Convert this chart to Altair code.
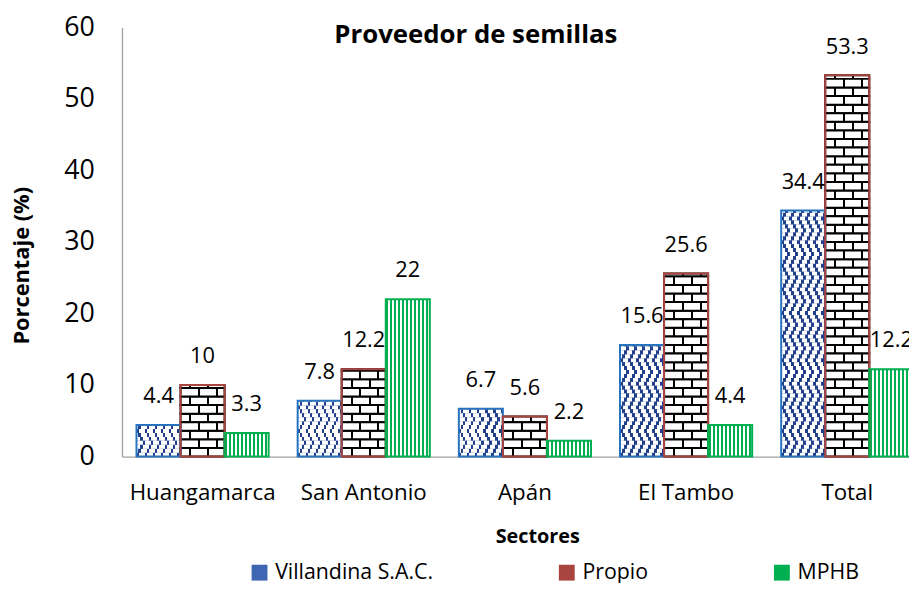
import math
import altair as alt
import pandas as pd

sectores = ["Huangamarca", "San Antonio", "Apán", "El Tambo", "Total"]
series = ["Villandina S.A.C.", "Propio", "MPHB"]
villandina = [4.4, 7.8, 6.7, 15.6, 34.4]
propio = [10, 12.2, 5.6, 25.6, 53.3]
mphb = [3.3, 22, 2.2, 4.4, 12.2]
y_ticks = [0, 10, 20, 30, 40, 50, 60]

FONT = "Open Sans"
NAVY = "#213f8a"
BLUE = "#2873c0"
BROWN = "#a9443f"
GREEN = "#00b050"

rows = []
for s, vals in zip(series, [villandina, propio, mphb]):
    for sec, v in zip(sectores, vals):
        rows.append({"Sector": sec, "Serie": s, "Valor": v, "Etiqueta": f"{v:g}"})
df = pd.DataFrame(rows)


def stripe_gradient(intervals, dark, light="white"):
    stops = [{"offset": 0.0, "color": light}]
    for a, b in intervals:
        a = max(0.0, min(1.0, a))
        b = max(0.0, min(1.0, b))
        if b <= a:
            continue
        stops += [{"offset": a, "color": light}, {"offset": a, "color": dark},
                  {"offset": b, "color": dark}, {"offset": b, "color": light}]
    stops.append({"offset": 1.0, "color": light})
    return {"gradient": "linear", "x1": 0, "y1": 0, "x2": 1, "y2": 0, "stops": stops}


# pattern rows (decoration derived from the data values)
V_STEP = 0.55
P_STEP = 1.2
V_PHASES = [0, 1, 2, 3, 2, 1]
pat_rows = []
for sec, v in zip(sectores, villandina):
    n = math.ceil(v / V_STEP - 1e-9)
    for k in range(n):
        pat_rows.append({"Sector": sec, "Serie": series[0], "y0": k * V_STEP,
                         "y1": min((k + 1) * V_STEP, v), "pat": f"v{V_PHASES[k % 6]}"})
for sec, v in zip(sectores, propio):
    n = math.ceil(v / P_STEP - 1e-9)
    for k in range(n):
        pat_rows.append({"Sector": sec, "Serie": series[1], "y0": k * P_STEP,
                         "y1": min((k + 1) * P_STEP, v), "pat": "pA" if k % 2 == 0 else "pB"})
pat_df = pd.DataFrame(pat_rows)

vper = 8 / 44
vdark = 0.06
vshift = 2 / 44
grads = {}
for ph in range(4):
    iv = [(j * vper + ph * vshift, j * vper + ph * vshift + vdark) for j in range(-2, 8)]
    grads[f"v{ph}"] = stripe_gradient(iv, NAVY)
lw = 2 / 44
grads["pA"] = stripe_gradient([(0.20, 0.20 + lw), (0.61, 0.61 + lw)], "black")
grads["pB"] = stripe_gradient([(0.40, 0.40 + lw), (0.81, 0.81 + lw)], "black")
mphb_grad = stripe_gradient([(j / 11 + 0.5 / 44, j / 11 + 2.5 / 44) for j in range(11)], GREEN)

x_enc = alt.X("Sector:N", sort=sectores,
              scale=alt.Scale(range=[0, 813], paddingInner=0.18, paddingOuter=0.09),
              axis=alt.Axis(title="Sectores", labelAngle=0, ticks=False, labelPadding=25,
                            labelFont=FONT, labelFontSize=22.5, labelColor="#000",
                            domainColor="#a0a0a0", domainWidth=1.3,
                            titleFont=FONT, titleFontSize=20, titleFontWeight="bold",
                            titleColor="#000", titleX=419, titleY=81,
                            titleBaseline="middle", titleAlign="center"))
xo_enc = alt.XOffset("Serie:N", sort=series,
                     scale=alt.Scale(domain=series, paddingInner=0, paddingOuter=0))
y_scale = alt.Scale(domain=[0, 60], nice=False)
y_enc = alt.Y("Valor:Q", scale=y_scale,
              axis=alt.Axis(title="Porcentaje (%)", values=y_ticks, ticks=False,
                            labelPadding=28, labelFont=FONT, labelFontSize=27,
                            labelColor="#000", domainColor="#a0a0a0", domainWidth=1.3,
                            grid=False, titleFont=FONT, titleFontSize=22,
                            titleFontWeight="bold", titleColor="#000", titleX=-101,
                            titleY=240, titleAngle=270, titleAlign="center",
                            titleBaseline="middle"))

base = alt.Chart(df).mark_bar().encode(
    x=x_enc, xOffset=xo_enc, y=y_enc,
    color=alt.Color("Serie:N", sort=series,
                    scale=alt.Scale(domain=series, range=["#3f66b3", BROWN, GREEN]),
                    legend=alt.Legend(title=None, orient="none", legendX=128, legendY=539,
                                      direction="horizontal", columns=3, gridAlign="each",
                                      columnPadding=124, symbolType="square", symbolSize=256,
                                      labelFont=FONT, labelFontSize=21.5, labelColor="#000",
                                      labelOffset=5, labelLimit=400)),
)

pattern_layers = []
for pid, g in grads.items():
    stroke_kw = {"stroke": "black", "strokeWidth": 2} if pid.startswith("p") else {}
    pattern_layers.append(
        alt.Chart(pat_df).transform_filter(alt.datum.pat == pid).mark_bar(fill=g, **stroke_kw).encode(
            x=alt.X("Sector:N", sort=sectores), xOffset=xo_enc,
            y=alt.Y("y0:Q", scale=y_scale), y2="y1:Q")
    )

mphb_layer = alt.Chart(df).transform_filter(alt.datum.Serie == "MPHB").mark_bar(fill=mphb_grad).encode(
    x=alt.X("Sector:N", sort=sectores), xOffset=xo_enc, y=alt.Y("Valor:Q", scale=y_scale))

outline = alt.Chart(df).mark_bar(fillOpacity=0, strokeWidth=2).encode(
    x=alt.X("Sector:N", sort=sectores), xOffset=xo_enc, y=alt.Y("Valor:Q", scale=y_scale),
    stroke=alt.Stroke("Serie:N", sort=series,
                      scale=alt.Scale(domain=series, range=[BLUE, BROWN, GREEN]), legend=None))

labels = alt.Chart(df).mark_text(font=FONT, fontSize=22, color="#000", baseline="middle", dy=-29).encode(
    x=alt.X("Sector:N", sort=sectores), xOffset=xo_enc, y=alt.Y("Valor:Q", scale=y_scale),
    text="Etiqueta:N")

title = alt.Chart(pd.DataFrame({"t": ["Proveedor de semillas"]})).mark_text(
    font=FONT, fontSize=26, fontWeight="bold", color="#000", baseline="middle", align="center"
).encode(x=alt.value(357), y=alt.value(8), text="t:N")

chart = alt.layer(base, *pattern_layers, mphb_layer, outline, labels, title).properties(
    width=794, height=433,
    autosize=alt.AutoSizeParams(type="none"),
    padding={"left": 115, "top": 17, "right": 0, "bottom": 125},
).resolve_scale(color="independent").configure_view(strokeWidth=0)

chart.save("out.html", embed_options={"renderer": "svg", "actions": False})
